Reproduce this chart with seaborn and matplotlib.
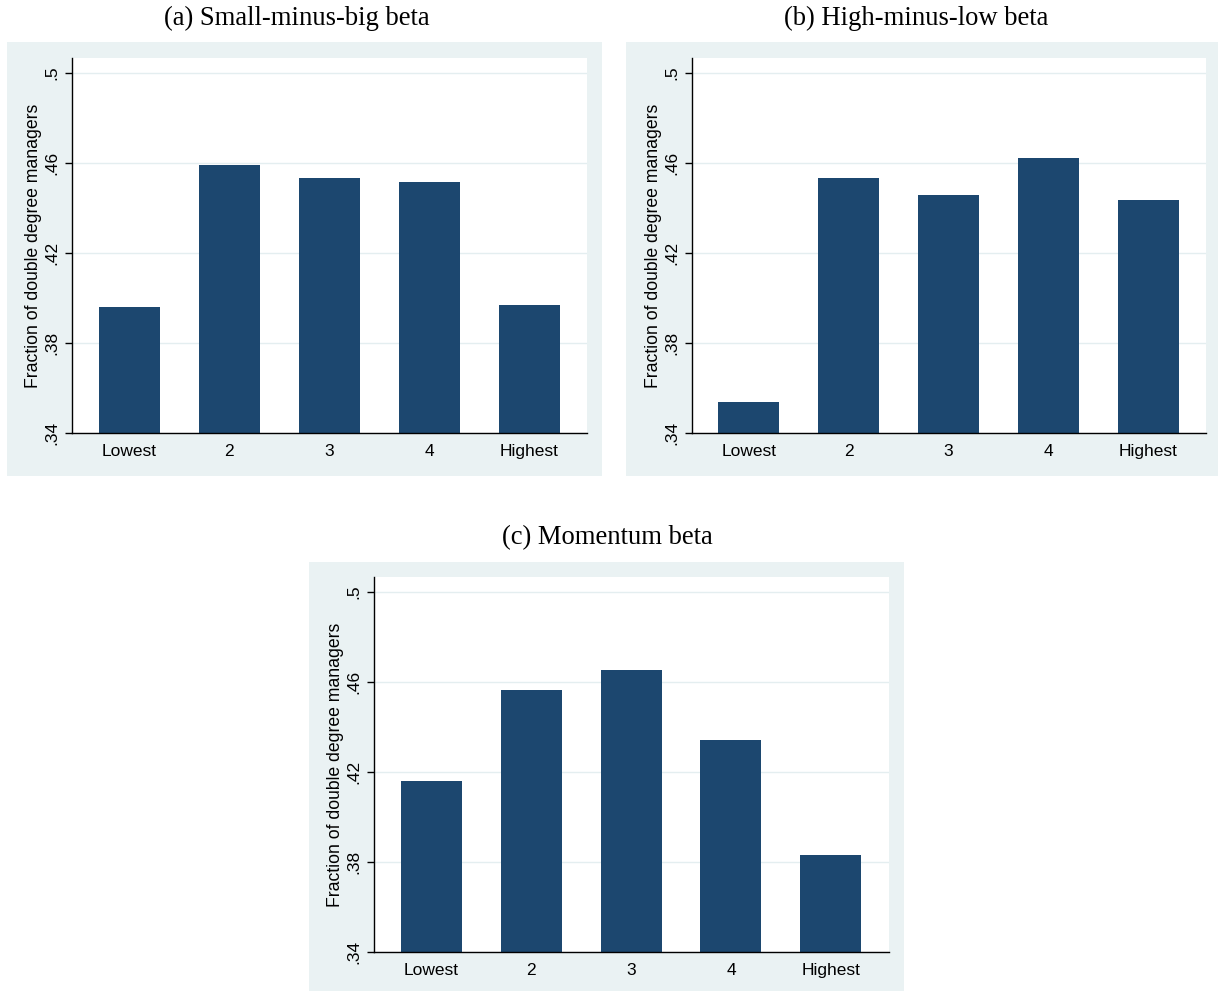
import numpy as np
import pandas as pd
import seaborn as sns
import matplotlib.pyplot as plt
from matplotlib.patches import Rectangle

categories = ['Lowest', '2', '3', '4', 'Highest']
smb_beta = [0.3961, 0.4591, 0.4535, 0.4516, 0.3969]
hml_beta = [0.3539, 0.4535, 0.4458, 0.4624, 0.4437]
mom_beta = [0.4161, 0.4566, 0.4655, 0.4342, 0.3832]
titles = ['(a) Small-minus-big beta', '(b) High-minus-low beta', '(c) Momentum beta']
ytick_values = [0.34, 0.38, 0.42, 0.46, 0.5]
ytick_labels = ['.34', '.38', '.42', '.46', '.5']
ylabel = 'Fraction of double degree managers'

W, H = 1218, 991
bar_color = '#1c476f'
region_color = '#eaf2f3'

sns.set_style('white')
plt.rcParams['font.family'] = ['Liberation Sans', 'DejaVu Sans']
plt.rcParams['text.color'] = 'black'
plt.rcParams['axes.labelcolor'] = 'black'
plt.rcParams['xtick.color'] = 'black'
plt.rcParams['ytick.color'] = 'black'

fig = plt.figure(figsize=(W / 100, H / 100), dpi=100)


def px_box(x0, y0, x1, y1):
    # pixel box (top-left origin) -> figure fraction [left, bottom, width, height]
    return [x0 / W, (H - y1) / H, (x1 - x0) / W, (y1 - y0) / H]


# (background box, plot area, title position)
layout = [
    ((7, 42, 602, 476), (72, 58, 587, 433), (297, 18)),
    ((626, 42, 1218, 476), (692, 58, 1206, 433), (916, 18)),
    ((309, 562, 904, 991), (374, 577, 889, 952), (607, 538)),
]

for (bg, plot_box, tpos), values, title in zip(layout, [smb_beta, hml_beta, mom_beta], titles):
    l, b, w, h = px_box(*bg)
    fig.patches.append(Rectangle((l, b), w, h, transform=fig.transFigure,
                                 facecolor=region_color, edgecolor='none', zorder=-1))
    fig.text(tpos[0] / W, 1 - tpos[1] / H, title, ha='center', va='center',
             fontsize=19.2, color='black', family=['Liberation Serif', 'DejaVu Serif'])

    ax = fig.add_axes(px_box(*plot_box))
    ax.set_zorder(1)
    df = pd.DataFrame({'group': categories, 'share': values})
    sns.barplot(data=df, x='group', y='share', color=bar_color, width=0.61,
                saturation=1, ax=ax, zorder=2)
    for p in ax.patches:
        p.set_edgecolor('none')

    ax.set_xlim(-0.57, 4.58)
    ax.set_ylim(0.34, 0.5067)
    ax.set_yticks(ytick_values)
    ax.set_yticklabels(ytick_labels, rotation=90, va='center', fontsize=12.5)
    ax.tick_params(axis='y', length=5, width=1, color='black', pad=4, left=True)
    ax.tick_params(axis='x', length=0, pad=8, labelsize=12.5)
    ax.yaxis.grid(True, color='#e4eef0', linewidth=1)
    ax.set_axisbelow(True)
    ax.set_xlabel('')
    ax.set_ylabel(ylabel, fontsize=12.7, labelpad=2)
    for side in ['top', 'right']:
        ax.spines[side].set_visible(False)
    for side in ['left', 'bottom']:
        ax.spines[side].set_color('black')
        ax.spines[side].set_linewidth(1)
    ax.set_facecolor('white')

fig.savefig('out.png', dpi=100)
